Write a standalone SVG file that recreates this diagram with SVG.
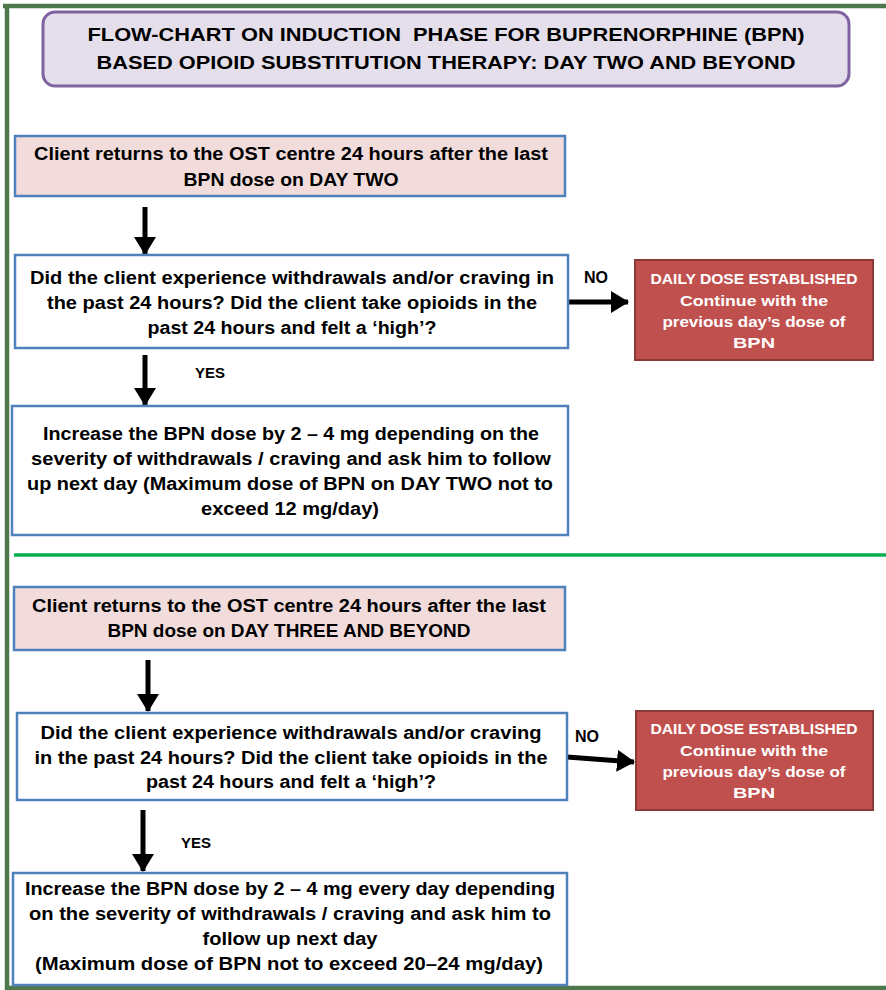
<svg xmlns="http://www.w3.org/2000/svg" width="886" height="990" viewBox="0 0 886 990">
<defs>
<style>
text{font-family:"Liberation Sans",Arial,sans-serif;font-weight:bold;text-anchor:middle}
.t{font-size:18px;fill:#000}
.tt{font-size:18px;fill:#000}
.w{font-size:15.5px;fill:#fff}
.lbl{font-size:15px;fill:#000}
.no{font-size:16px;fill:#000}
.pink{fill:#f2dcdb;stroke:#4f81bd;stroke-width:2.5}
.white{fill:#fff;stroke:#4f81bd;stroke-width:2.5}
.red{fill:#c0504d;stroke:#8c3a38;stroke-width:2}
.conn{stroke:#000;stroke-width:5;fill:none}
</style>
<marker id="ah" markerUnits="userSpaceOnUse" markerWidth="22" markerHeight="22" refX="17" refY="11" orient="auto">
<polygon points="0,0 18,11 0,22" fill="#000"/>
</marker>
</defs>
<rect width="886" height="990" fill="#fff"/>
<g id="frame" fill="none" stroke="#4e784c" stroke-width="4.5">
<line x1="3" y1="6" x2="886" y2="6"/>
<line x1="7" y1="4" x2="7" y2="990"/>
<line x1="5" y1="988" x2="886" y2="988"/>
</g>
<line x1="14" y1="555" x2="886" y2="555" stroke="#00b050" stroke-width="3.5"/>
<g id="title">
<rect x="43" y="12" width="806" height="74" rx="12" fill="#e5dfec" stroke="#8064a2" stroke-width="3"/>
<text class="tt" x="446" y="41" textLength="717" lengthAdjust="spacingAndGlyphs" xml:space="preserve">FLOW-CHART ON INDUCTION  PHASE FOR BUPRENORPHINE (BPN)</text>
<text class="tt" x="446" y="69" textLength="699" lengthAdjust="spacingAndGlyphs">BASED OPIOID SUBSTITUTION THERAPY: DAY TWO AND BEYOND</text>
</g>
<g id="connectors">
<line class="conn" x1="145" y1="207" x2="145" y2="254" marker-end="url(#ah)"/>
<line class="conn" x1="568" y1="302" x2="628" y2="302" marker-end="url(#ah)"/>
<line class="conn" x1="145" y1="355" x2="145" y2="405" marker-end="url(#ah)"/>
<line class="conn" x1="148" y1="660" x2="148" y2="711" marker-end="url(#ah)"/>
<line class="conn" x1="567" y1="757" x2="634" y2="762" marker-end="url(#ah)"/>
<line class="conn" x1="143" y1="810" x2="143" y2="871" marker-end="url(#ah)"/>
<text class="no" x="596" y="283">NO</text>
<text class="lbl" x="210" y="378">YES</text>
<text class="no" x="587" y="742">NO</text>
<text class="lbl" x="196" y="848">YES</text>
</g>
<g id="n1">
<rect class="pink" x="15" y="136" width="550" height="60"/>
<text class="t" x="291" y="160" textLength="514" lengthAdjust="spacingAndGlyphs">Client returns to the OST centre 24 hours after the last</text>
<text class="t" x="291" y="186" textLength="215" lengthAdjust="spacingAndGlyphs">BPN dose on DAY TWO</text>
</g>
<g id="n2">
<rect class="white" x="15" y="255" width="553" height="93"/>
<text class="t" x="292" y="284" textLength="524" lengthAdjust="spacingAndGlyphs">Did the client experience withdrawals and/or craving in</text>
<text class="t" x="292" y="309" textLength="490" lengthAdjust="spacingAndGlyphs">the past 24 hours? Did the client take opioids in the</text>
<text class="t" x="292" y="334" textLength="289" lengthAdjust="spacingAndGlyphs">past 24 hours and felt a ‘high’?</text>
</g>
<g id="n3">
<rect class="red" x="635" y="260" width="238" height="100"/>
<text class="w" x="754" y="284" textLength="207" lengthAdjust="spacingAndGlyphs">DAILY DOSE ESTABLISHED</text>
<text class="w" x="754" y="306" textLength="148" lengthAdjust="spacingAndGlyphs">Continue with the</text>
<text class="w" x="754" y="327" textLength="183" lengthAdjust="spacingAndGlyphs">previous day’s dose of</text>
<text class="w" x="754" y="348" textLength="42" lengthAdjust="spacingAndGlyphs">BPN</text>
</g>
<g id="n4">
<rect class="white" x="12" y="406" width="556" height="129"/>
<text class="t" x="291" y="440" textLength="496" lengthAdjust="spacingAndGlyphs">Increase the BPN dose by 2 – 4 mg depending on the</text>
<text class="t" x="291" y="465" textLength="520" lengthAdjust="spacingAndGlyphs">severity of withdrawals / craving and ask him to follow</text>
<text class="t" x="290" y="490" textLength="526" lengthAdjust="spacingAndGlyphs">up next day (Maximum dose of BPN on DAY TWO not to</text>
<text class="t" x="290" y="515" textLength="178" lengthAdjust="spacingAndGlyphs">exceed 12 mg/day)</text>
</g>
<g id="n5">
<rect class="pink" x="14" y="587" width="551" height="63"/>
<text class="t" x="289" y="612" textLength="514" lengthAdjust="spacingAndGlyphs">Client returns to the OST centre 24 hours after the last</text>
<text class="t" x="289" y="637" textLength="363" lengthAdjust="spacingAndGlyphs">BPN dose on DAY THREE AND BEYOND</text>
</g>
<g id="n6">
<rect class="white" x="17" y="713" width="550" height="87"/>
<text class="t" x="291" y="739" textLength="501" lengthAdjust="spacingAndGlyphs">Did the client experience withdrawals and/or craving</text>
<text class="t" x="291" y="764" textLength="513" lengthAdjust="spacingAndGlyphs">in the past 24 hours? Did the client take opioids in the</text>
<text class="t" x="291" y="788" textLength="290" lengthAdjust="spacingAndGlyphs">past 24 hours and felt a ‘high’?</text>
</g>
<g id="n7">
<rect class="red" x="636" y="711" width="237" height="99"/>
<text class="w" x="754" y="734" textLength="207" lengthAdjust="spacingAndGlyphs">DAILY DOSE ESTABLISHED</text>
<text class="w" x="754" y="756" textLength="148" lengthAdjust="spacingAndGlyphs">Continue with the</text>
<text class="w" x="754" y="777" textLength="183" lengthAdjust="spacingAndGlyphs">previous day’s dose of</text>
<text class="w" x="754" y="798" textLength="42" lengthAdjust="spacingAndGlyphs">BPN</text>
</g>
<g id="n8">
<rect class="white" x="13" y="873" width="554" height="112"/>
<text class="t" x="290" y="895" textLength="530" lengthAdjust="spacingAndGlyphs">Increase the BPN dose by 2 – 4 mg every day depending</text>
<text class="t" x="290" y="920" textLength="522" lengthAdjust="spacingAndGlyphs">on the severity of withdrawals / craving and ask him to</text>
<text class="t" x="290" y="945" textLength="175" lengthAdjust="spacingAndGlyphs">follow up next day</text>
<text class="t" x="289" y="970" textLength="508" lengthAdjust="spacingAndGlyphs">(Maximum dose of BPN not to exceed 20–24 mg/day)</text>
</g>
</svg>
